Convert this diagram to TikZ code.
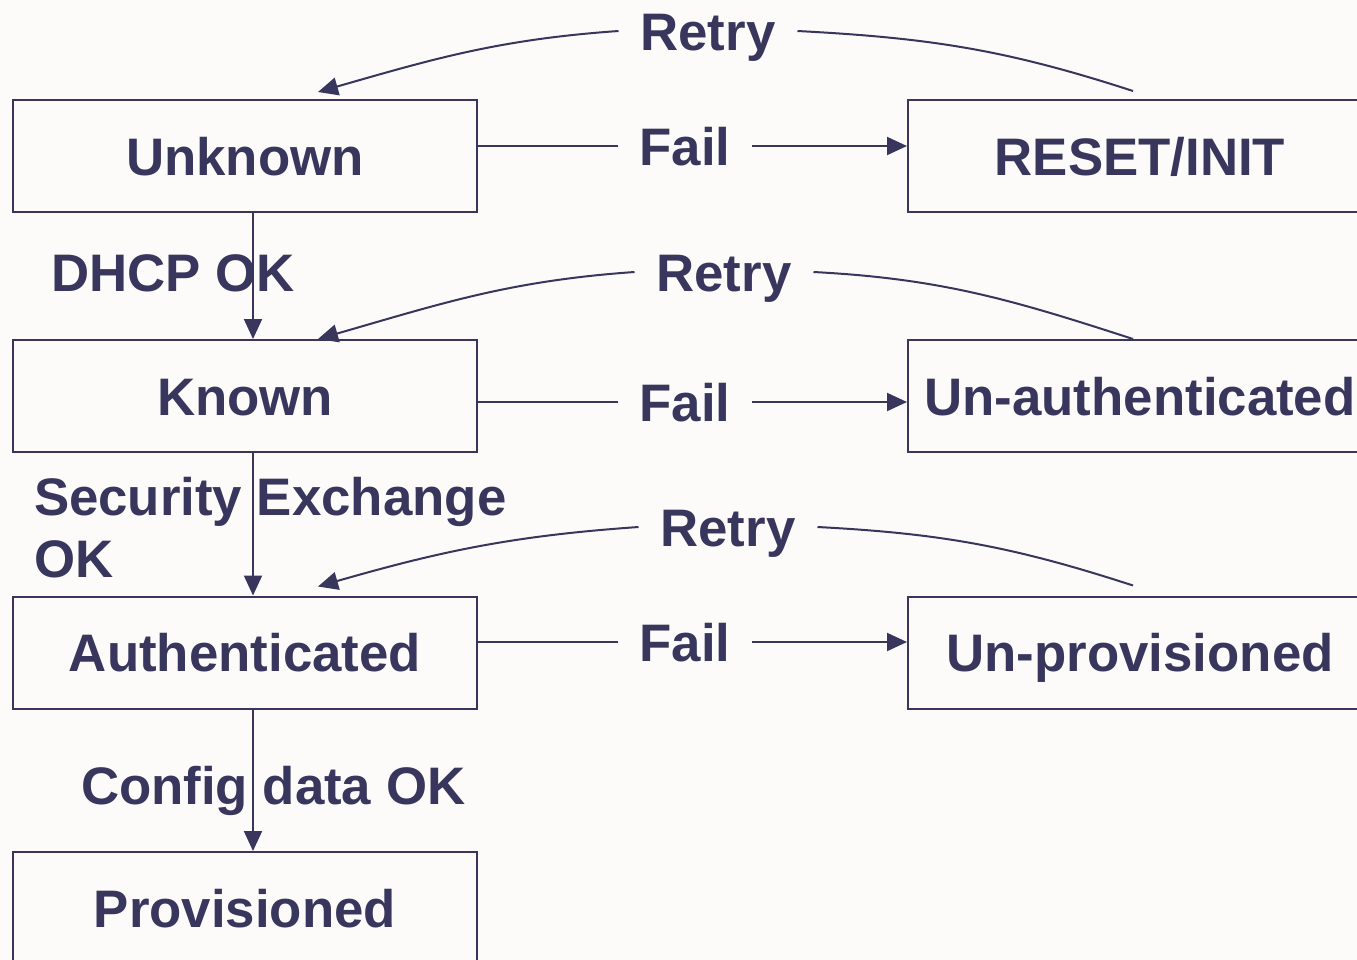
\documentclass[tikz,border=0pt]{standalone}
\usepackage{fontspec}
\setmainfont{Liberation Sans}
\usetikzlibrary{arrows.meta}
\definecolor{navyclr}{RGB}{56,54,92}
\definecolor{paperclr}{RGB}{252,251,249}

\begin{document}
\begin{tikzpicture}[x=0.5pt,y=-0.5pt,line width=1pt,navyclr,
  every node/.style={font=\fontsize{26.4}{31}\selectfont\bfseries,text=navyclr},
  state/.style={draw=navyclr,minimum width=232pt,minimum height=56pt,inner sep=0pt,text height=19pt,text depth=0pt},
  lbl/.style={inner xsep=10.5pt,inner ysep=0pt,text height=19pt,text depth=0pt},
  arr/.style={-{Triangle[length=10pt,width=9pt]}}]
\newcommand{\paperfill}{paperclr}
\fill[\paperfill] (0,0) rectangle (1357,960);
\useasboundingbox (0,0) rectangle (1357,960);
%\draw[help lines,step=50] (0,0) grid (1357,960);
\node[state] (unknown) at (245,156) {Unknown};
\node[state] (known) at (245,396) {Known};
\node[state] (authd) at (245,652.5) {Authenticated};
\node[state] (prov) at (245,908) {Provisioned};
\node[state] (reset) at (1140,156) {RESET/INIT};
\node[state] (unauth) at (1140,396) {Un-authenticated};
\node[state] (unprov) at (1140,652.5) {Un-provisioned};
\node[lbl] (fail1) at (685,146) {Fail};
\node[lbl] (fail2) at (685,402) {Fail};
\node[lbl] (fail3) at (685,642) {Fail};
\node[lbl] (retry1) at (708,31) {Retry};
\node[lbl] (retry2) at (724,272) {Retry};
\node[lbl] (retry3) at (728,527) {Retry};
\node[lbl,inner xsep=0pt,anchor=west] (dhcp) at (50,272) {DHCP OK};
\node[anchor=base west,inner sep=0pt,align=left] (secx) at (33,577) {Security Exchange\\OK};
\node[lbl,inner xsep=0pt,anchor=west] (cfg) at (80,785) {Config data OK};
% down the left column
\draw[arr] ([xshift=4pt]unknown.south) -- ([xshift=4pt]known.north);
\draw[arr] ([xshift=4pt]known.south) -- ([xshift=4pt]authd.north);
\draw[arr] ([xshift=4pt]authd.south) -- ([xshift=4pt]prov.north);
% fail lines
\draw (unknown.east |- fail1) -- (fail1.west);
\draw[arr] (fail1.east) -- (reset.west |- fail1);
\draw (known.east |- fail2) -- (fail2.west);
\draw[arr] (fail2.east) -- (unauth.west |- fail2);
\draw (authd.east |- fail3) -- (fail3.west);
\draw[arr] (fail3.east) -- (unprov.west |- fail3);
% retry curves
\draw ([xshift=-3.5pt,yshift=4pt]reset.north) to[out=162,in=-3] (retry1.east);
\draw[arr] (retry1.west) to[out=184,in=16] ([xshift=36.5pt,yshift=3.5pt]unknown.north);
\draw ([xshift=-3.5pt]unauth.north) to[out=162,in=-3] (retry2.east);
\draw[arr] (retry2.west) to[out=184,in=16] ([xshift=36.5pt]known.north);
\draw ([xshift=-3.5pt,yshift=5pt]unprov.north) to[out=162,in=-3] (retry3.east);
\draw[arr] (retry3.west) to[out=184,in=16] ([xshift=36.5pt,yshift=4.5pt]authd.north);
\end{tikzpicture}
\end{document}
